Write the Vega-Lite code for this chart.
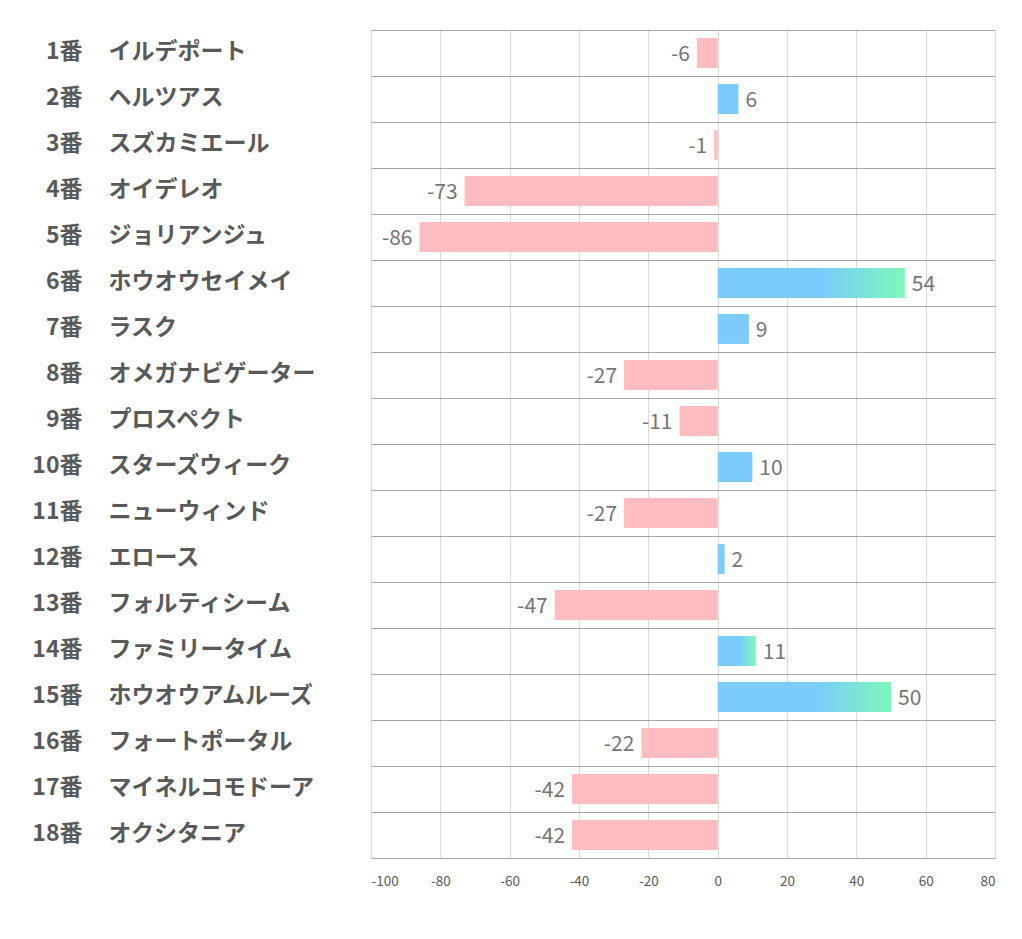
{
  "$schema": "https://vega.github.io/schema/vega-lite/v6.json",
  "autosize": {"type": "none"},
  "width": 624,
  "height": 828,
  "padding": {"left": 371, "top": 30, "right": 27, "bottom": 81},
  "background": "white",
  "config": {"view": {"stroke": null}},
  "data": {
    "values": [
      {"no": "1番", "name": "イルデポート", "value": -6, "highlight": false},
      {"no": "2番", "name": "ヘルツアス", "value": 6, "highlight": false},
      {"no": "3番", "name": "スズカミエール", "value": -1, "highlight": false},
      {"no": "4番", "name": "オイデレオ", "value": -73, "highlight": false},
      {"no": "5番", "name": "ジョリアンジュ", "value": -86, "highlight": false},
      {"no": "6番", "name": "ホウオウセイメイ", "value": 54, "highlight": true},
      {"no": "7番", "name": "ラスク", "value": 9, "highlight": false},
      {"no": "8番", "name": "オメガナビゲーター", "value": -27, "highlight": false},
      {"no": "9番", "name": "プロスペクト", "value": -11, "highlight": false},
      {"no": "10番", "name": "スターズウィーク", "value": 10, "highlight": false},
      {"no": "11番", "name": "ニューウィンド", "value": -27, "highlight": false},
      {"no": "12番", "name": "エロース", "value": 2, "highlight": false},
      {"no": "13番", "name": "フォルティシーム", "value": -47, "highlight": false},
      {"no": "14番", "name": "ファミリータイム", "value": 11, "highlight": true},
      {"no": "15番", "name": "ホウオウアムルーズ", "value": 50, "highlight": true},
      {"no": "16番", "name": "フォートポータル", "value": -22, "highlight": false},
      {"no": "17番", "name": "マイネルコモドーア", "value": -42, "highlight": false},
      {"no": "18番", "name": "オクシタニア", "value": -42, "highlight": false}
    ]
  },
  "encoding": {
    "x": {
      "field": "value",
      "type": "quantitative",
      "scale": {"domain": [-100, 80], "nice": false, "zero": false},
      "axis": {
        "title": null,
        "values": [-100, -80, -60, -40, -20, 0, 20, 40, 60, 80],
        "labelExpr": "'' + datum.value",
        "grid": true,
        "gridColor": "#d9d9d9",
        "gridWidth": 1,
        "domain": false,
        "ticks": false,
        "tickSize": 0,
        "labelPadding": 16,
        "labelFont": "Noto Sans CJK JP",
        "labelFontSize": 13.5,
        "labelColor": "#595959"
      }
    }
  },
  "layer": [
    {
      "encoding": {
        "y": {
          "field": "name",
          "type": "nominal",
          "sort": ["イルデポート", "ヘルツアス", "スズカミエール", "オイデレオ", "ジョリアンジュ", "ホウオウセイメイ", "ラスク", "オメガナビゲーター", "プロスペクト", "スターズウィーク", "ニューウィンド", "エロース", "フォルティシーム", "ファミリータイム", "ホウオウアムルーズ", "フォートポータル", "マイネルコモドーア", "オクシタニア"],
          "scale": {"paddingInner": 0, "paddingOuter": 0},
          "axis": {
            "title": null,
            "orient": "left",
            "grid": true,
            "tickBand": "extent",
            "gridColor": "#a6a6a6",
            "gridWidth": 1,
            "domain": false,
            "ticks": false,
            "tickSize": 0,
            "labelAlign": "left",
            "labelPadding": 263,
            "labelLimit": 400,
            "labelOverlap": false,
            "labelFont": "Noto Sans CJK JP",
            "labelFontSize": 23,
            "labelFontWeight": "bold",
            "labelColor": "#595959",
            "labelOffset": -2
          }
        }
      },
      "layer": [
        {
          "transform": [{"filter": "datum.value < 0"}],
          "mark": {"type": "bar", "color": "#FFBDC0", "height": {"band": 0.65}}
        },
        {
          "transform": [{"filter": "datum.value >= 0 && !datum.highlight"}],
          "mark": {"type": "bar", "color": "#7BCBFC", "height": {"band": 0.65}}
        },
        {
          "transform": [{"filter": "datum.highlight"}],
          "mark": {
            "type": "bar",
            "height": {"band": 0.65},
            "color": {
              "gradient": "linear",
              "x1": 0, "x2": 1, "y1": 0, "y2": 0,
              "stops": [
                {"offset": 0, "color": "#7BCBFC"},
                {"offset": 0.55, "color": "#7BCBFC"},
                {"offset": 1, "color": "#7EF7BA"}
              ]
            }
          }
        },
        {
          "transform": [{"filter": "datum.value >= 0"}],
          "mark": {"type": "text", "align": "left", "dx": 7, "dy": 2, "font": "Noto Sans CJK JP", "fontSize": 21, "color": "#767676"},
          "encoding": {"text": {"field": "value", "type": "nominal"}}
        },
        {
          "transform": [{"filter": "datum.value < 0"}],
          "mark": {"type": "text", "align": "right", "dx": -7, "dy": 2, "font": "Noto Sans CJK JP", "fontSize": 21, "color": "#767676"},
          "encoding": {"text": {"field": "value", "type": "nominal"}}
        }
      ]
    },
    {
      "mark": {"type": "text", "opacity": 0},
      "encoding": {
        "y": {
          "field": "no",
          "type": "nominal",
          "sort": null,
          "scale": {"paddingInner": 0, "paddingOuter": 0},
          "axis": {
            "title": null,
            "orient": "left",
            "grid": false,
            "domain": false,
            "ticks": false,
            "tickSize": 0,
            "labelAlign": "right",
            "labelPadding": 289,
            "labelLimit": 200,
            "labelOverlap": false,
            "labelFont": "Noto Sans CJK JP",
            "labelFontSize": 23,
            "labelFontWeight": "bold",
            "labelColor": "#595959",
            "labelOffset": -2
          }
        },
        "text": {"field": "no", "type": "nominal"}
      }
    }
  ],
  "resolve": {"scale": {"y": "independent"}, "axis": {"y": "independent"}}
}
